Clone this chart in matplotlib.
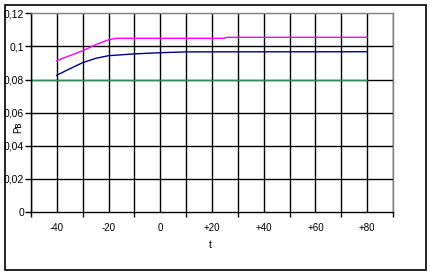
import matplotlib
matplotlib.use('Agg')
import matplotlib.pyplot as plt
from matplotlib.patches import Rectangle
from matplotlib.ticker import FixedLocator, NullFormatter

plt.rcParams['font.family'] = ['Liberation Sans', 'DejaVu Sans']

# magenta series
t_pink = [-40, -30, -25, -20, -17, 25, 25.5, 80]
pb_pink = [0.0914, 0.0974, 0.1010, 0.1040, 0.1049, 0.1049, 0.1055, 0.1055]

# navy series
t_navy = [-40, -35, -30, -25, -20, -10, 0, 10, 80]
pb_navy = [0.0826, 0.0865, 0.0902, 0.0928, 0.0944, 0.0955, 0.0962, 0.0967, 0.0968]

# green series
t_green = [-50, 80]
pb_green = [0.08, 0.08]

x_labels = ['-40', '-20', '0', '+20', '+40', '+60', '+80']
x_label_pos = [-40, -20, 0, 20, 40, 60, 80]
y_ticks = [0, 0.02, 0.04, 0.06, 0.08, 0.1, 0.12]
y_labels = ['0', '0,02', '0,04', '0,06', '0,08', '0,1', '0,12']

W, H = 430, 275
fig = plt.figure(figsize=(W / 100, H / 100), dpi=100)
ax = fig.add_axes([31 / W, (H - 212) / H, 362 / W, (212 - 13.3) / H])

ax.set_xlim(-50, 90)
ax.set_ylim(0, 0.12)

# gridlines
for gx in range(-50, 91, 10):
    ax.axvline(gx, color='black', lw=1.0, zorder=1)
for gy in y_ticks[1:-1]:
    ax.axhline(gy, color='black', lw=1.0, zorder=1)

ax.plot(t_green, pb_green, color='#3a8a5f', lw=1.0, zorder=3)
ax.plot(t_navy, pb_navy, color='#000080', lw=1.0, zorder=3)
ax.plot(t_pink, pb_pink, color='#ff00ff', lw=1.0, zorder=3)

# x ticks: labels at even steps, short marks at odd steps
ax.xaxis.remove_overlapping_locs = False
ax.set_xticks(x_label_pos)
ax.set_xticklabels(x_labels)
ax.xaxis.set_minor_locator(FixedLocator(list(range(-50, 91, 20))))
ax.xaxis.set_minor_formatter(NullFormatter())
ax.tick_params(axis='x', which='major', length=0, pad=8, labelsize=7)
ax.tick_params(axis='x', which='minor', length=3.5, width=1, direction='out')

ax.set_yticks(y_ticks)
ax.set_yticklabels(y_labels)
ax.tick_params(axis='y', length=4, width=1, pad=1, labelsize=7.5)

for s in ['top', 'right']:
    ax.spines[s].set_color('#808080')
for s in ['left', 'bottom']:
    ax.spines[s].set_color('black')
for s in ax.spines.values():
    s.set_linewidth(1)
    s.set_zorder(4)

fig.text(210 / W, 1 - 245 / H, 't', fontsize=7.5, ha='center', va='center')
fig.text(18 / W, 1 - 127 / H, 'Рв', fontsize=7, ha='center', va='center', rotation=90)

fig.patches.append(Rectangle((5 / W, 5 / H), 421 / W, 265 / H, transform=fig.transFigure,
                             fill=False, edgecolor='black', lw=1.2))

fig.savefig('out.png', dpi=100)
